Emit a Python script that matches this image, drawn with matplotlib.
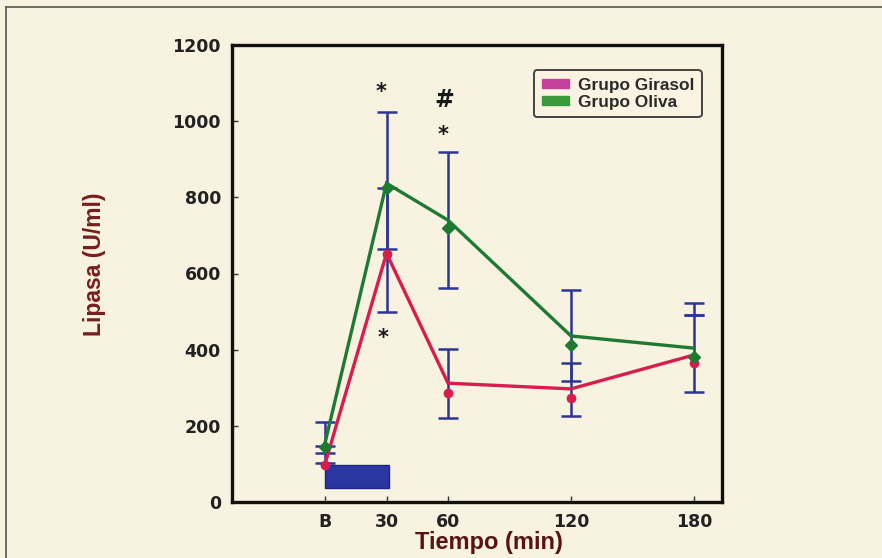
import matplotlib
matplotlib.use("Agg")
import matplotlib.pyplot as plt
from matplotlib.patches import Patch, Rectangle
from matplotlib.lines import Line2D

# ---------------- data ----------------
times = [0, 30, 60, 120, 180]
tick_labels = ["B", "30", "60", "120", "180"]

oliva_line = [155, 837, 740, 436, 404]
oliva_mark = [144, 825, 720, 412, 380]
oliva_low = [129, 664, 562, 318, 491]
oliva_high = [210, 1024, 918, 556, 522]

girasol_line = [100, 653, 312, 297, 386]
girasol_mark = [97, 650, 286, 273, 365]
girasol_low = [102, 499, 220, 226, 289]
girasol_high = [147, 824, 402, 365, 491]

meal_start, meal_end = 0, 31
meal_low, meal_high = 37, 97

annotations = [("*", 27.5, 1076), ("#", 58, 1055), ("*", 57.5, 963), ("*", 28.5, 430)]

yticks = [0, 200, 400, 600, 800, 1000, 1200]

# ---------------- style ----------------
bg = "#f8f2e0"
green = "#1e7a32"
red = "#d81c4e"
blue = "#2b3595"

fig = plt.figure(figsize=(8.82, 5.58), dpi=100, facecolor=bg)
ax = fig.add_axes([232/882, 56/558, 490/882, 457/558])
ax.set_facecolor(bg)

# frame around image (left & top)
fig.add_artist(Line2D([6/882, 6/882], [0, 1 - 7/558], transform=fig.transFigure, color="#555555", lw=1.2))
fig.add_artist(Line2D([6/882, 1], [1 - 7/558, 1 - 7/558], transform=fig.transFigure, color="#555555", lw=1.2))

# meal bar
ax.add_patch(Rectangle((meal_start, meal_low), meal_end - meal_start, meal_high - meal_low,
                       facecolor="#2a36a2", edgecolor="#1e2680", lw=1, zorder=2))

# error bars
for lows, highs in [(girasol_low, girasol_high), (oliva_low, oliva_high)]:
    mid = [(l + h) / 2 for l, h in zip(lows, highs)]
    yerr = [[m - l for m, l in zip(mid, lows)], [h - m for h, m in zip(highs, mid)]]
    ax.errorbar(times, mid, yerr=yerr, fmt="none", ecolor=blue, elinewidth=1.8,
                capsize=7, capthick=1.8, zorder=3)

# lines
ax.plot(times, girasol_line, color=red, lw=2.4, zorder=4, solid_joinstyle="miter")
ax.plot(times, oliva_line, color=green, lw=2.4, zorder=5, solid_joinstyle="miter")
ax.plot(times, girasol_mark, ls="none", marker="o", ms=6, color=red, zorder=6)
ax.plot(times, oliva_mark, ls="none", marker="D", ms=6, color=green, zorder=6)

for txt, x, y in annotations:
    ax.text(x, y, txt, fontsize=17 if txt == "#" else 15, fontweight="bold",
            ha="center", va="center", color="#1a1a1a", family="DejaVu Sans")

ax.set_xlim(-45.4, 193.7)
ax.set_ylim(0, 1200)
ax.set_xticks(times)
ax.set_xticklabels(tick_labels)
ax.set_yticks(yticks)
for s in ax.spines.values():
    s.set_linewidth(2.4)
    s.set_color("#111111")
ax.tick_params(axis="both", direction="in", length=4, width=1, colors="#333333",
               labelcolor="#222222", labelsize=12.5, pad=8)
for lab in ax.get_xticklabels() + ax.get_yticklabels():
    lab.set_fontweight("bold")
    lab.set_family("DejaVu Sans")

ax.set_ylabel("Lipasa (U/ml)", fontsize=16.5, color="#7a1c1c", family="Liberation Sans",
              fontweight="bold", labelpad=0)
ax.yaxis.set_label_coords(-0.258, 0.52)
fig.text(489/882, 1 - 543/558, "Tiempo (min)", fontsize=17, color="#5a1212",
         family="Liberation Sans", fontweight="bold", ha="center", va="center")

handles = [Patch(facecolor="#c4409a", edgecolor="#c4409a"), Patch(facecolor="#3c9a3c", edgecolor="#3c9a3c")]
leg = ax.legend(handles, ["Grupo Girasol", "Grupo Oliva"], loc="upper right",
                bbox_to_anchor=(0.959, 0.945), borderaxespad=0, frameon=True, fancybox=True,
                prop={"family": "Liberation Sans", "weight": "bold", "size": 12.4},
                handlelength=1.6, handleheight=0.4, handletextpad=0.5,
                labelspacing=0.1, borderpad=0.45, facecolor="#faf3e2", edgecolor="#444444")
leg.get_frame().set_linewidth(1.4)
leg.get_frame().set_alpha(1)
for t in leg.get_texts():
    t.set_color("#2a2a2a")

fig.savefig("out.png", dpi=100, facecolor=bg)
